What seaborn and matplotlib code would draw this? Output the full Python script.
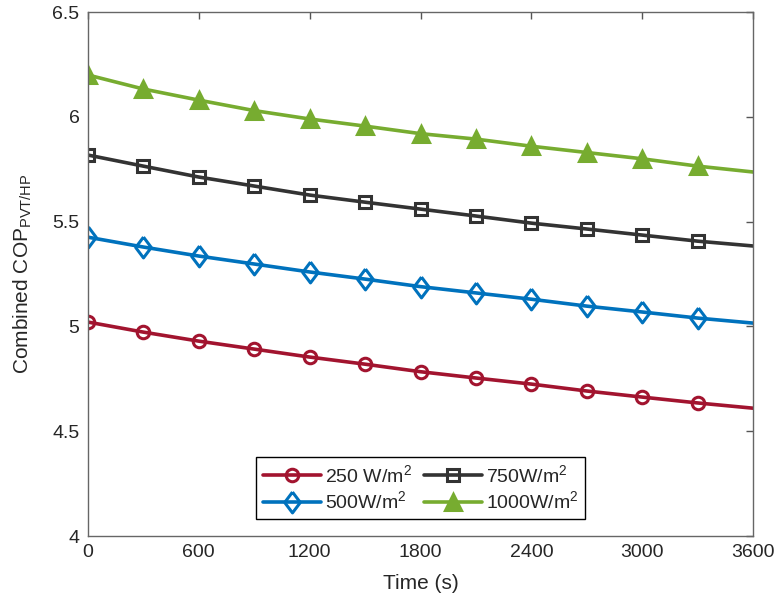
import numpy as np
import pandas as pd
import matplotlib
matplotlib.use("Agg")
import matplotlib.pyplot as plt
import seaborn as sns

time_s = [0, 300, 600, 900, 1200, 1500, 1800, 2100, 2400, 2700, 3000, 3300, 3600]
cop_250 = [5.021, 4.973, 4.930, 4.892, 4.854, 4.820, 4.784, 4.754, 4.725, 4.692, 4.663, 4.635, 4.610]
cop_500 = [5.426, 5.379, 5.336, 5.298, 5.260, 5.226, 5.190, 5.160, 5.130, 5.097, 5.069, 5.040, 5.016]
cop_750 = [5.818, 5.765, 5.713, 5.670, 5.627, 5.593, 5.560, 5.527, 5.493, 5.465, 5.436, 5.407, 5.384]
cop_1000 = [6.200, 6.133, 6.080, 6.030, 5.990, 5.956, 5.920, 5.894, 5.860, 5.830, 5.800, 5.765, 5.737]
labels = ["250 W/m$^2$", "500W/m$^2$", "750W/m$^2$", "1000W/m$^2$"]
colors = ["#A2142F", "#0072BD", "#333333", "#77AC30"]
diamond = [(0, 1), (0.75, 0), (0, -1), (-0.75, 0), (0, 1)]
markers = ["o", diamond, "s", "^"]
xticks = [0, 600, 1200, 1800, 2400, 3000, 3600]
yticks = [4, 4.5, 5, 5.5, 6, 6.5]

sns.set_style("white")
plt.rcParams['font.family'] = ['Liberation Sans', 'DejaVu Sans']
plt.rcParams['mathtext.fontset'] = 'custom'
plt.rcParams['mathtext.rm'] = 'Liberation Sans'
plt.rcParams['mathtext.it'] = 'Liberation Sans'

fig = plt.figure(figsize=(7.78, 6.05), dpi=100)
ax = fig.add_axes([0.113, 0.114, 0.855, 0.866])

series = [cop_250, cop_500, cop_750, cop_1000]
msizes = [9, 15, 8, 11]
for vals, lab, col, mk, ms in zip(series, labels, colors, markers, msizes):
    df = pd.DataFrame({"t": time_s, "cop": vals})
    face = col if mk == "^" else "none"
    sns.lineplot(data=df, x="t", y="cop", ax=ax, color=col, linewidth=2.6,
                 marker=mk, markersize=ms, markerfacecolor=face,
                 markeredgecolor=col, markeredgewidth=2.2, markevery=list(range(12)),
                 label=lab)

ax.set_xlim(0, 3600)
ax.set_ylim(4, 6.5)
ax.set_xticks(xticks)
ax.set_xticklabels([str(v) for v in xticks])
ax.set_yticks(yticks)
ax.set_yticklabels(["4", "4.5", "5", "5.5", "6", "6.5"])
ax.tick_params(direction="in", length=5, width=1, colors="#555555", labelcolor="#262626",
               labelsize=14, top=True, right=True, pad=6)
for sp in ax.spines.values():
    sp.set_color("#666666")
    sp.set_linewidth(1.0)
ax.set_xlabel("Time (s)", fontsize=15, color="#262626", labelpad=9)
ax.set_ylabel("Combined COP$_{\\mathrm{PVT/HP}}$", fontsize=15, color="#262626", labelpad=13)

leg = ax.legend(loc="lower center", bbox_to_anchor=(0.5, 0.032), ncol=2, fontsize=14,
                frameon=True, fancybox=False, edgecolor="black", framealpha=1,
                handlelength=3.0, columnspacing=0.6, handletextpad=0.2,
                borderpad=0.35, labelspacing=0.25, borderaxespad=0)
leg.get_frame().set_linewidth(1.0)

fig.savefig("out.png", dpi=100)
